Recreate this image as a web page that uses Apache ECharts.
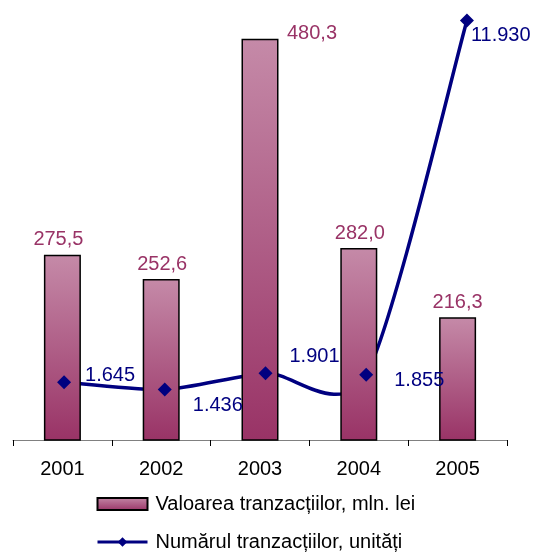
<!DOCTYPE html>
<html>
<head>
<meta charset="utf-8">
<script src="https://cdn.jsdelivr.net/npm/echarts@6/dist/echarts.min.js"></script>
<style>
  html, body { margin: 0; padding: 0; background: #fff; }
  #chart { width: 534px; height: 552px; }
</style>
</head>
<body>
<div id="chart"></div>
<script>
  var years = ['2001', '2002', '2003', '2004', '2005'];
  var valoarea = [275.5, 252.6, 480.3, 282.0, 216.3];
  var numarul = [1645, 1436, 1901, 1855, 11930];
  var valoareaLabels = ['275,5', '252,6', '480,3', '282,0', '216,3'];
  var numarulLabels = ['1.645', '1.436', '1.901', '1.855', '11.930'];

  // label offsets, per point
  var barLabelOffsets = [[-4, 0], [1, 0], [52, 10], [1, 0], [0, 0]];
  var lineLabelOffsets = [[6, -7], [13, 16], [9, -17], [13, 6], [-11, 15]];

  var chart = echarts.init(document.getElementById('chart'));
  var font = 'Liberation Sans, Arial, sans-serif';
  var navy = '#000080';

  var barGradient = new echarts.graphic.LinearGradient(0, 0, 0, 1, [
    { offset: 0, color: '#c58aa8' },
    { offset: 1, color: '#993366' },
  ]);

  // excel style smoothed curve (catmull-rom like), points go through the axes
  function renderCurve(params, api) {
    if (params.dataIndex !== 0) {
      return null;
    }
    var pts = numarul.map(function (v, i) {
      return api.coord([i, v]);
    });
    var f = 0.13;
    var n = pts.length;
    var tan = pts.map(function (p, i) {
      var a = pts[Math.max(i - 1, 0)];
      var b = pts[Math.min(i + 1, n - 1)];
      return [(b[0] - a[0]) * f, (b[1] - a[1]) * f];
    });
    var d = 'M' + pts[0][0] + ' ' + pts[0][1];
    for (var i = 0; i < n - 1; i++) {
      var p0 = pts[i], p1 = pts[i + 1];
      d += ' C' + (p0[0] + tan[i][0]) + ' ' + (p0[1] + tan[i][1]) +
        ' ' + (p1[0] - tan[i + 1][0]) + ' ' + (p1[1] - tan[i + 1][1]) +
        ' ' + p1[0] + ' ' + p1[1];
    }
    return {
      type: 'path',
      shape: { pathData: d },
      style: { fill: null, stroke: navy, lineWidth: 3.5 },
    };
  }

  chart.setOption({
    animation: false,
    textStyle: { fontFamily: font },
    grid: { left: 13, right: 27, top: 18, bottom: 112 },
    legend: {
      orient: 'vertical',
      left: 96,
      top: 494,
      height: 80,
      padding: 0,
      itemWidth: 50,
      itemHeight: 12,
      itemGap: 18,
      textStyle: { fontSize: 20, color: '#000', fontFamily: font, padding: [0, 0, 0, 3] },
      data: [
        { name: 'Valoarea tranzacțiilor, mln. lei', icon: 'rect' },
        {
          name: 'Numărul tranzacțiilor, unități',
          lineStyle: { color: navy, width: 3, opacity: 1 },
        },
      ],
    },
    xAxis: [
      {
        type: 'category',
        data: years,
        boundaryGap: true,
        axisLine: { lineStyle: { color: '#808080', width: 1 } },
        axisTick: { show: true, alignWithLabel: false, length: 6, lineStyle: { color: '#000' } },
        axisLabel: { fontSize: 20, color: '#000', margin: 19, fontFamily: font },
      },
      {
        // hidden axis for the line, Excel put the markers slightly off the bar centres
        type: 'value',
        min: -0.507,
        max: 4.398,
        show: false,
      },
    ],
    yAxis: [
      { type: 'value', min: 100, max: 500, show: false },
      { type: 'value', min: 0, max: 12000, show: false },
    ],
    series: [
      {
        name: 'Valoarea tranzacțiilor, mln. lei',
        type: 'bar',
        barWidth: 37,
        itemStyle: { color: barGradient, borderColor: '#000', borderWidth: 1.5 },
        data: valoarea.map(function (v, i) {
          return {
            value: v,
            label: {
              show: true,
              position: 'top',
              offset: barLabelOffsets[i],
              formatter: valoareaLabels[i],
              color: '#993366',
              fontSize: 20,
              fontFamily: font,
            },
          };
        }),
      },
      {
        name: 'curve',
        type: 'custom',
        xAxisIndex: 1,
        yAxisIndex: 1,
        renderItem: renderCurve,
        data: numarul.map(function (v, i) {
          return [i, v];
        }),
        silent: true,
      },
      {
        name: 'Numărul tranzacțiilor, unități',
        type: 'line',
        xAxisIndex: 1,
        yAxisIndex: 1,
        symbol: 'diamond',
        symbolSize: 14,
        lineStyle: { color: navy, width: 3, opacity: 0 },
        itemStyle: { color: navy },
        data: numarul.map(function (v, i) {
          return {
            value: [i, v],
            label: {
              show: true,
              position: 'right',
              distance: 8,
              offset: lineLabelOffsets[i],
              formatter: numarulLabels[i],
              color: navy,
              fontSize: 20,
              fontFamily: font,
            },
          };
        }),
      },
    ],
  });
</script>
</body>
</html>
